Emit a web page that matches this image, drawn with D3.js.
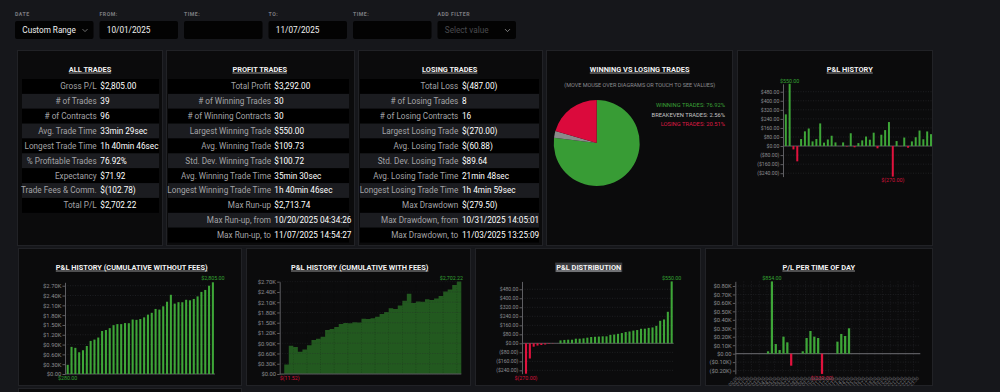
<!DOCTYPE html>
<html><head><meta charset="utf-8">
<script src="https://cdn.jsdelivr.net/npm/d3@7"></script>
<style>
html,body{margin:0;padding:0;background:#16171b;overflow:hidden}
svg{display:block}
</style></head>
<body>
<script>
// ---------------- DATA ----------------
const filterLabels = ["DATE", "FROM:", "TIME:", "TO:", "TIME:", "ADD FILTER"];
const filterValues = ["Custom Range", "10/01/2025", "", "11/07/2025", "", "Select value"];

const allLabels = ["Gross P/L", "# of Trades", "# of Contracts", "Avg. Trade Time", "Longest Trade Time",
  "% Profitable Trades", "Expectancy", "Trade Fees & Comm.", "Total P/L"];
const allValues = ["$2,805.00", "39", "96", "33min 29sec", "1h 40min 46sec", "76.92%", "$71.92", "$(102.78)", "$2,702.22"];

const profitLabels = ["Total Profit", "# of Winning Trades", "# of Winning Contracts", "Largest Winning Trade",
  "Avg. Winning Trade", "Std. Dev. Winning Trade", "Avg. Winning Trade Time", "Longest Winning Trade Time",
  "Max Run-up", "Max Run-up, from", "Max Run-up, to"];
const profitValues = ["$3,292.00", "30", "30", "$550.00", "$109.73", "$100.72", "35min 30sec", "1h 40min 46sec",
  "$2,713.74", "10/20/2025 04:34:26", "11/07/2025 14:54:27"];

const lossLabels = ["Total Loss", "# of Losing Trades", "# of Losing Contracts", "Largest Losing Trade",
  "Avg. Losing Trade", "Std. Dev. Losing Trade", "Avg. Losing Trade Time", "Longest Losing Trade Time",
  "Max Drawdown", "Max Drawdown, from", "Max Drawdown, to"];
const lossValues = ["$(487.00)", "8", "16", "$(270.00)", "$(60.88)", "$89.64", "21min 48sec", "1h 4min 59sec",
  "$(279.50)", "10/31/2025 14:05:01", "11/03/2025 13:25:09"];

const pieLabels = ["WINNING TRADES", "BREAKEVEN TRADES", "LOSING TRADES"];
const pieValues = [76.92, 2.56, 20.51];

// P&L per trade (chronological)
const pnl = [280, 550, -30, -135, 62, 130, 155, 41, 62, 200, 30, 58, 91, 32, 0, 32, -4, 113, -11, 26,
  50, 84, 56, 118, -20, 100, 141, 212, -270, 44, -2, 75, -15, 41, 78, 137, 60, 129, 105];

// cumulative P&L with fees (first point = start)
const cumWithFees = [-11.52, 277.36, 824.73, 792.09, 654.46, 713.82, 841.19, 993.55, 1031.92, 1091.28,
  1288.65, 1316.01, 1371.38, 1459.74, 1489.10, 1486.47, 1515.83, 1509.20, 1619.56, 1605.93,
  1629.29, 1676.66, 1758.02, 1811.39, 1926.75, 1904.11, 2001.48, 2139.84, 2349.21, 2076.57,
  2117.94, 2113.30, 2185.67, 2168.03, 2206.40, 2281.76, 2416.12, 2473.49, 2599.85, 2702.22];

const timeLabels = ["00:00","00:30","01:00","01:30","02:00","02:30","03:00","03:30","04:00","04:30","05:00","05:30",
  "06:00","06:30","07:00","07:30","08:00","08:30","09:00","09:30","10:00","10:30","11:00","11:30",
  "12:00","12:30","13:00","13:30","14:00","14:30","15:00","15:30","16:00","16:30","17:00","17:30",
  "18:00","18:30","19:00","19:30","20:00","20:30","21:00","21:30","22:00","22:30","23:00","23:30"];
const timeValues = [0,0,0,0,0,0,0,0,28,854,114,43,201,134,-142,0,0,28,185,268,201,185,-239,0,
  0,0,142,233,209,300,0,0,0,0,0,0,0,0,0,0,0,0,0,0,0,0,0,0];

const pnlTicks = [480, 400, 320, 240, 160, 80, 0, -80, -160, -240];
const cumTicks = [0, 300, 600, 900, 1200, 1500, 1800, 2100, 2400, 2700];
const timeTicks = [-200, -100, 0, 100, 200, 300, 400, 500, 600, 700, 800];

// ---------------- HELPERS ----------------
const FONT = "Roboto, 'Noto Sans', sans-serif";
const GREEN = "#3ea638", RED = "#e0123d", AGREEN = "#33a232", ARED = "#d3123a";
const f2 = d3.format(",.2f");
const fmtMoney = v => v < 0 ? "($" + f2(-v) + ")" : "$" + f2(v);
const fmtAnno = v => v < 0 ? "$(" + f2(-v) + ")" : "$" + f2(v);
const fmtK = v => v === 0 ? "$0.00" : (v < 0 ? "($" + (-v / 1000).toFixed(2) + "K)" : "$" + (v / 1000).toFixed(2) + "K");

const svg = d3.select("body").append("svg").attr("width", 1000).attr("height", 392).style("font-family", FONT);
svg.append("rect").attr("width", 1000).attr("height", 392).attr("fill", "#16171b");

function panel(x, y, w, h) {
  svg.append("rect").attr("x", x + 0.5).attr("y", y + 0.5).attr("width", w).attr("height", h)
    .attr("fill", "#0b0b0c").attr("stroke", "#212226").attr("stroke-width", 1);
}
function title(cx, y, txt, hl) {
  const g = svg.append("g");
  const r = g.append("rect").attr("fill", "#3b3c40");
  const t = g.append("text").attr("x", cx).attr("y", y).attr("text-anchor", "middle")
    .attr("fill", "#f2f2f2").attr("font-size", 7.4).attr("font-weight", 700).text(txt);
  const w = t.node().getComputedTextLength();
  if (hl) r.attr("x", cx - w / 2 - 1).attr("y", y - 7).attr("width", w + 2).attr("height", 9.5);
  else r.remove();
  g.append("line").attr("x1", cx - w / 2).attr("x2", cx + w / 2).attr("y1", y + 1.4).attr("y2", y + 1.4)
    .attr("stroke", "#f2f2f2").attr("stroke-width", 0.6);
}
function chevron(x, y, c) {
  svg.append("path").attr("d", `M${x - 2.5},${y - 1.2}L${x},${y + 1.3}L${x + 2.5},${y - 1.2}`)
    .attr("fill", "none").attr("stroke", c).attr("stroke-width", 0.8);
}

// ---------------- FILTER BAR ----------------
const fx = [15, 99.5, 184, 268.5, 353, 437.5];
filterLabels.forEach((l, i) => {
  svg.append("text").attr("x", fx[i]).attr("y", 15.8).attr("fill", "#7c7c80").attr("font-size", 5.2)
    .attr("font-weight", 700).attr("letter-spacing", 0.5).text(l);
  svg.append("rect").attr("x", fx[i]).attr("y", 21).attr("width", 78.5).attr("height", 18).attr("rx", 2)
    .attr("fill", "#030303");
  const sel = i === 5;
  svg.append("text").attr("x", fx[i] + 7.3).attr("y", 33.2)
    .attr("fill", sel ? "#4a4a4e" : "#f0f0f0").attr("font-size", 8.2).text(filterValues[i]);
});
chevron(85, 30.3, "#8a8a8a");
chevron(507.5, 30.3, "#9a9a9a");

// ---------------- PANELS ----------------
[[17, 50, 145, 195], [166, 50, 188, 195], [358, 50, 184, 195], [546, 50, 186, 195], [737, 50, 195, 195],
 [18, 248, 223, 137], [246, 248, 224, 137], [475, 248, 225, 137], [705, 248, 227, 137], [18, 388, 223, 20]]
  .forEach(p => panel(...p));

// ---------------- TABLES ----------------
function table(x0, x1, lx, vx, cx, ttl, labels, values) {
  title(cx, 71.6, ttl);
  const rh = 14.87, top = 79;
  const g = svg.append("g");
  const rows = g.selectAll("g").data(labels).join("g").attr("transform", (d, i) => `translate(0,${top + i * rh})`);
  rows.append("rect").attr("x", x0).attr("width", x1 - x0).attr("height", rh)
    .attr("fill", (d, i) => i % 2 === 0 ? "#000000" : "#1b1c20");
  rows.append("text").attr("x", lx).attr("y", rh / 2 + 2.9).attr("text-anchor", "end")
    .attr("fill", "#a3a3a6").attr("font-size", 8.2).text(d => d);
  rows.append("text").attr("x", vx).attr("y", rh / 2 + 2.9).attr("fill", "#ffffff")
    .attr("font-size", 8.2).attr("font-weight", 400).text((d, i) => values[i]);
}
table(22, 159, 96.7, 100.3, 90, "ALL TRADES", allLabels, allValues);
table(168, 349, 271, 274.3, 259.7, "PROFIT TRADES", profitLabels, profitValues);
table(360, 539, 458.3, 462, 449.7, "LOSING TRADES", lossLabels, lossValues);

// ---------------- PIE ----------------
title(639.7, 71.6, "WINNING VS LOSING TRADES");
svg.append("text").attr("x", 639.7).attr("y", 86.5).attr("text-anchor", "middle").attr("fill", "#8c8c90")
  .attr("font-size", 5.5).text("(MOVE MOUSE OVER DIAGRAMS OR TOUCH TO SEE VALUES)");
const pieColors = ["#389c35", "#8a8a8a", "#db0a3c"];
const legColors = ["#3aa036", "#c4c4c4", "#de1a44"];
const arcs = d3.pie().sort(null)(pieValues);
const arc = d3.arc().innerRadius(0).outerRadius(43);
svg.append("g").attr("transform", "translate(596.7,143)").selectAll("path").data(arcs).join("path")
  .attr("d", arc).attr("fill", (d, i) => pieColors[i]);
svg.append("g").selectAll("text").data(pieLabels).join("text")
  .attr("x", 725).attr("y", (d, i) => 107.3 + i * 9.4).attr("text-anchor", "end")
  .attr("fill", (d, i) => legColors[i]).attr("font-size", 5.8)
  .text((d, i) => d + ": " + pieValues[i].toFixed(2) + "%");

// ---------------- BAR CHARTS ----------------
function styleAxis(ag, fs) {
  ag.attr("font-family", FONT).attr("font-size", fs);
  ag.select(".domain").attr("stroke", "#5e5e62");
  ag.selectAll(".tick line").attr("stroke", "#5e5e62");
  ag.selectAll(".tick text").attr("fill", "#8e8e92");
}
function barChart(o) {
  const x = d3.scaleBand().domain(d3.range(o.data.length)).range(o.xr).paddingInner(o.pad).paddingOuter(o.pad / 2);
  const y = d3.scaleLinear().domain(o.yd).range(o.yr);
  const g = svg.append("g");
  g.selectAll(".grid").data(o.ticks).join("line").attr("x1", o.ax).attr("x2", o.gx1)
    .attr("y1", d => y(d)).attr("y2", d => y(d)).attr("stroke", "#2c2d31").attr("stroke-width", 0.6)
    .attr("stroke-dasharray", "1,1.5");
  if (o.vgrid) {
    g.selectAll(".vgrid").data(o.data.filter((d, i) => i % 2 === 0)).join("line")
      .attr("x1", (d, i) => x(i * 2)).attr("x2", (d, i) => x(i * 2))
      .attr("y1", o.yr[1]).attr("y2", o.yr[0]).attr("stroke", "#26272b").attr("stroke-width", 0.6)
      .attr("stroke-dasharray", "1,1.5");
  }
  g.append("line").attr("x1", o.ax).attr("x2", o.gx1).attr("y1", y(0)).attr("y2", y(0))
    .attr("stroke", "#5a5a5e").attr("stroke-width", o.zw || 1);
  g.selectAll(".bar").data(o.data).join("rect")
    .attr("x", (d, i) => x(i)).attr("width", x.bandwidth())
    .attr("y", d => y(Math.max(0, d))).attr("height", d => Math.abs(y(d) - y(0)))
    .attr("fill", d => d < 0 ? RED : GREEN);
  const ag = g.append("g").attr("transform", `translate(${o.ax},0)`)
    .call(d3.axisLeft(y).tickValues(o.ticks).tickFormat(o.fmt).tickSize(2.5).tickSizeOuter(0).tickPadding(1.2));
  styleAxis(ag, o.fs);
  const iMax = d3.maxIndex(o.data), iMin = d3.minIndex(o.data);
  g.append("text").attr("x", x(iMax) + x.bandwidth() / 2).attr("y", o.maxY).attr("text-anchor", "middle")
    .attr("fill", AGREEN).attr("font-size", 5.3).text(fmtAnno(o.data[iMax]));
  g.append("text").attr("x", x(iMin) + x.bandwidth() / 2).attr("y", o.minY).attr("text-anchor", "middle")
    .attr("fill", o.data[iMin] < 0 ? ARED : AGREEN).attr("font-size", 5.3).text(fmtAnno(o.data[iMin]));
  return { x, y, g };
}

// P&L HISTORY
title(849.7, 71.6, "P&L HISTORY");
barChart({ data: pnl, xr: [783.9, 932.9], pad: 0.48, yd: [-270, 550], yr: [176.6, 83.8], ax: 783, gx1: 932,
  ticks: pnlTicks, fmt: fmtMoney, fs: 5.1, maxY: 82.6, minY: 182 });

// CUMULATIVE WITHOUT FEES
title(131.7, 269.6, "P&L HISTORY (CUMULATIVE WITHOUT FEES)");
barChart({ data: d3.cumsum(pnl), xr: [65.8, 214.8], pad: 0.46, yd: [0, 2805], yr: [374, 282.3], ax: 65, gx1: 215,
  ticks: cumTicks, fmt: fmtK, fs: 5.8, maxY: 280, minY: 380 });

// CUMULATIVE WITH FEES (step area)
title(359.7, 269.6, "P&L HISTORY (CUMULATIVE WITH FEES)");
{
  const x = d3.scaleBand().domain(d3.range(cumWithFees.length)).range([279.7, 461.3]).padding(0);
  const y = d3.scaleLinear().domain([0, 2700]).range([374, 281.7]);
  const g = svg.append("g");
  const pts = cumWithFees.map((v, i) => [x(i), y(v)]);
  pts.push([x.range()[1], y(cumWithFees[cumWithFees.length - 1])]);
  g.append("path").datum(pts)
    .attr("d", d3.area().x(d => d[0]).y0(y(0)).y1(d => d[1]).curve(d3.curveStepAfter))
    .attr("fill", "#22591f");
  g.selectAll(".grid").data(cumTicks).join("line").attr("x1", 279.7).attr("x2", 461.3)
    .attr("y1", d => y(d)).attr("y2", d => y(d)).attr("stroke", "#2c2d31").attr("stroke-width", 0.6)
    .attr("stroke-dasharray", "1,1.5").attr("opacity", 0.8);
  g.selectAll(".vgrid").data(cumWithFees.filter((d, i) => i % 3 === 0)).join("line")
    .attr("x1", (d, i) => x(i * 3)).attr("x2", (d, i) => x(i * 3)).attr("y1", 281.7).attr("y2", 374)
    .attr("stroke", "#0c0c0d").attr("stroke-width", 0.5).attr("stroke-dasharray", "1,1.5").attr("opacity", 0.4);
  g.append("line").attr("x1", 279.7).attr("x2", 461.3).attr("y1", y(0)).attr("y2", y(0)).attr("stroke", "#5a5a5e");
  const ag = g.append("g").attr("transform", "translate(279.7,0)")
    .call(d3.axisLeft(y).tickValues(cumTicks).tickFormat(fmtK).tickSize(2.5).tickSizeOuter(0).tickPadding(1.2));
  styleAxis(ag, 5.8);
  const iMax = d3.maxIndex(cumWithFees), iMin = d3.minIndex(cumWithFees);
  const clampLabel = (i, yy, col) => {
    const t = g.append("text").attr("y", yy).attr("text-anchor", "middle").attr("fill", col)
      .attr("font-size", 5.3).text(fmtAnno(cumWithFees[i]));
    const w = t.node().getComputedTextLength();
    const cx = x(i) + x.bandwidth() / 2;
    t.attr("x", Math.min(Math.max(cx, 279.7 + w / 2), 463 - w / 2));
  };
  clampLabel(iMax, 280, AGREEN);
  clampLabel(iMin, 380, ARED);
}

// P&L DISTRIBUTION
title(588.7, 269.6, "P&L DISTRIBUTION", true);
barChart({ data: d3.sort(pnl), xr: [524.1, 673.6], pad: 0.46, yd: [-270, 550], yr: [373.7, 281.4], ax: 522, gx1: 673.7,
  ticks: pnlTicks, fmt: fmtMoney, fs: 5.1, maxY: 280, minY: 380 });

// P/L PER TIME OF DAY
title(818.7, 269.6, "P/L PER TIME OF DAY");
{
  const r = barChart({ data: timeValues, xr: [735.3, 920.3], pad: 0.42, yd: [-239, 854], yr: [373.9, 281.4],
    ax: 735.3, gx1: 920.3, ticks: timeTicks, fmt: fmtK, fs: 5.8, maxY: 280, minY: 380, vgrid: true, zw: 1.3 });
  r.g.selectAll(".xl").data(timeLabels).join("text")
    .attr("transform", (d, i) => `translate(${r.x(i) + r.x.bandwidth() / 2 + 1},378.5) rotate(-45)`)
    .attr("text-anchor", "end").attr("fill", "#6a6a6e").attr("font-size", 4.5).text(d => d);
}
</script>
</body></html>
